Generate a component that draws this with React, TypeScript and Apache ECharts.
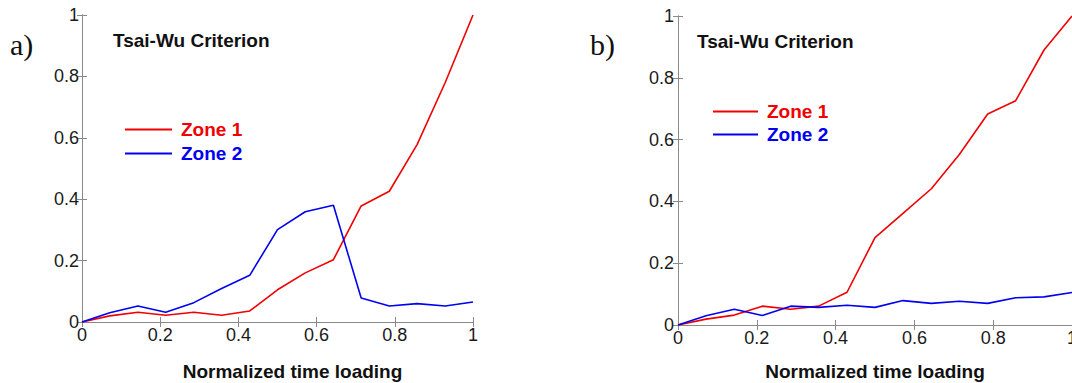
import React, { useEffect, useRef } from "react";
import * as echarts from "echarts";

const timeSteps = [0, 0.071, 0.143, 0.214, 0.286, 0.357, 0.429, 0.5, 0.571, 0.643, 0.714, 0.786, 0.857, 0.929, 1];

const aZone1 = [0, 0.02, 0.032, 0.022, 0.032, 0.022, 0.036, 0.105, 0.16, 0.203, 0.378, 0.426, 0.578, 0.78, 1.0];
const aZone2 = [0, 0.03, 0.052, 0.032, 0.063, 0.109, 0.152, 0.301, 0.359, 0.38, 0.078, 0.052, 0.06, 0.052, 0.065];

const bZone1 = [0, 0.019, 0.032, 0.061, 0.051, 0.061, 0.106, 0.283, 0.361, 0.441, 0.552, 0.683, 0.726, 0.89, 1.0];
const bZone2 = [0, 0.03, 0.051, 0.031, 0.061, 0.057, 0.064, 0.057, 0.079, 0.07, 0.077, 0.07, 0.088, 0.091, 0.105];

const axisTicks = { min: 0, max: 1, interval: 0.2 };
const panelLabels = ["a)", "b)"];
const titleText = "Tsai-Wu Criterion";
const xAxisName = "Normalized time loading";
const seriesNames = ["Zone 1", "Zone 2"];

const RED = "#f00000";
const BLUE = "#0000f0";
const AXIS = "#8a8a8a";
const SANS = '"Liberation Sans", Arial, sans-serif';

const zip = (ys: number[]) => timeSteps.map((x, i) => [x, ys[i]]);

function makeAxes(grid: number, nameGap: number, namePadLeft: number, labelMargin: number) {
  const common = {
    gridIndex: grid,
    type: "value" as const,
    ...axisTicks,
    splitLine: { show: false },
    axisLine: { show: true, lineStyle: { color: AXIS, width: 1 } },
    axisTick: { show: true, inside: true, length: 5, lineStyle: { color: AXIS } },
  };
  const label = { fontSize: 18, color: "#1a1a1a", fontFamily: SANS, margin: labelMargin };
  const xAxes = [
    {
      ...common,
      position: "bottom",
      axisLabel: { ...label, margin: 4 },
      name: xAxisName,
      nameLocation: "middle",
      nameGap,
      nameTextStyle: {
        fontSize: 19,
        fontWeight: "bold",
        color: "#111",
        fontFamily: SANS,
        padding: [0, 0, 0, namePadLeft],
      },
    },
    { ...common, position: "top", axisLabel: { show: false } },
  ];
  const yAxes = [
    { ...common, position: "left", axisLabel: label },
    { ...common, position: "right", axisLabel: { show: false } },
  ];
  return { xAxes, yAxes };
}

export default function App() {
  const ref = useRef<HTMLDivElement>(null);

  useEffect(() => {
    document.body.style.margin = "0";
    if (!ref.current) return;
    const chart = echarts.init(ref.current, null, { renderer: "svg" });

    const a = makeAxes(0, 40, 30, 3);
    const b = makeAxes(1, 37, 0, 4);

    const lineSeries = (name: string, ys: number[], color: string, axisBase: number) => ({
      type: "line",
      name,
      xAxisIndex: axisBase,
      yAxisIndex: axisBase,
      data: zip(ys),
      symbol: "none",
      showSymbol: false,
      color,
      lineStyle: { color, width: 1.6 },
      clip: false,
    });

    const legendCommon = {
      orient: "vertical",
      icon: "rect",
      itemHeight: 2,
      textStyle: {
        fontSize: 19,
        fontWeight: "bold",
        fontFamily: SANS,
        lineHeight: 19,
        padding: [0, 0, 0, 4],
      },
      selectedMode: false,
    };

    chart.setOption({
      animation: false,
      backgroundColor: "#ffffff",
      title: [
        {
          text: titleText,
          left: 113,
          top: 31,
          padding: 0,
          textStyle: { fontSize: 19, fontWeight: "bold", color: "#111", fontFamily: SANS },
        },
        {
          text: titleText,
          left: 697,
          top: 32,
          padding: 0,
          textStyle: { fontSize: 19, fontWeight: "bold", color: "#111", fontFamily: SANS },
        },
      ],
      legend: [
        {
          ...legendCommon,
          left: 125,
          top: 120,
          itemWidth: 47,
          itemGap: 5,
          padding: 0,
          data: [
            { name: seriesNames[0], textStyle: { color: RED } },
            { name: seriesNames[1], textStyle: { color: BLUE } },
          ],
        },
        {
          ...legendCommon,
          left: 713,
          top: 102,
          itemWidth: 45,
          itemGap: 4,
          padding: 0,
          data: [
            { name: seriesNames[0], textStyle: { color: RED } },
            { name: seriesNames[1], textStyle: { color: BLUE } },
          ],
        },
      ],
      grid: [
        { left: 82, top: 15, width: 391, height: 307, outerBoundsMode: "none", containLabel: false },
        { left: 678, top: 16, width: 394, height: 309, outerBoundsMode: "none", containLabel: false },
      ],
      xAxis: [a.xAxes[0], a.xAxes[1], b.xAxes[0], b.xAxes[1]].map((ax, i) => ({ ...ax, gridIndex: i < 2 ? 0 : 1 })),
      yAxis: [a.yAxes[0], a.yAxes[1], b.yAxes[0], b.yAxes[1]].map((ax, i) => ({ ...ax, gridIndex: i < 2 ? 0 : 1 })),
      series: [
        lineSeries(seriesNames[0], aZone1, RED, 0),
        lineSeries(seriesNames[1], aZone2, BLUE, 0),
        lineSeries(seriesNames[0], bZone1, RED, 2),
        lineSeries(seriesNames[1], bZone2, BLUE, 2),
      ],
      graphic: [
        {
          type: "text",
          x: 10,
          y: 44,
          style: {
            text: panelLabels[0],
            font: '30px "Liberation Serif", "Times New Roman", serif',
            fill: "#111",
            verticalAlign: "middle",
          },
        },
        {
          type: "text",
          x: 590,
          y: 44,
          style: {
            text: panelLabels[1],
            font: '30px "Liberation Serif", "Times New Roman", serif',
            fill: "#111",
            verticalAlign: "middle",
          },
        },
      ],
    });

    return () => chart.dispose();
  }, []);

  return <div ref={ref} style={{ width: 1072, height: 383 }} />;
}
